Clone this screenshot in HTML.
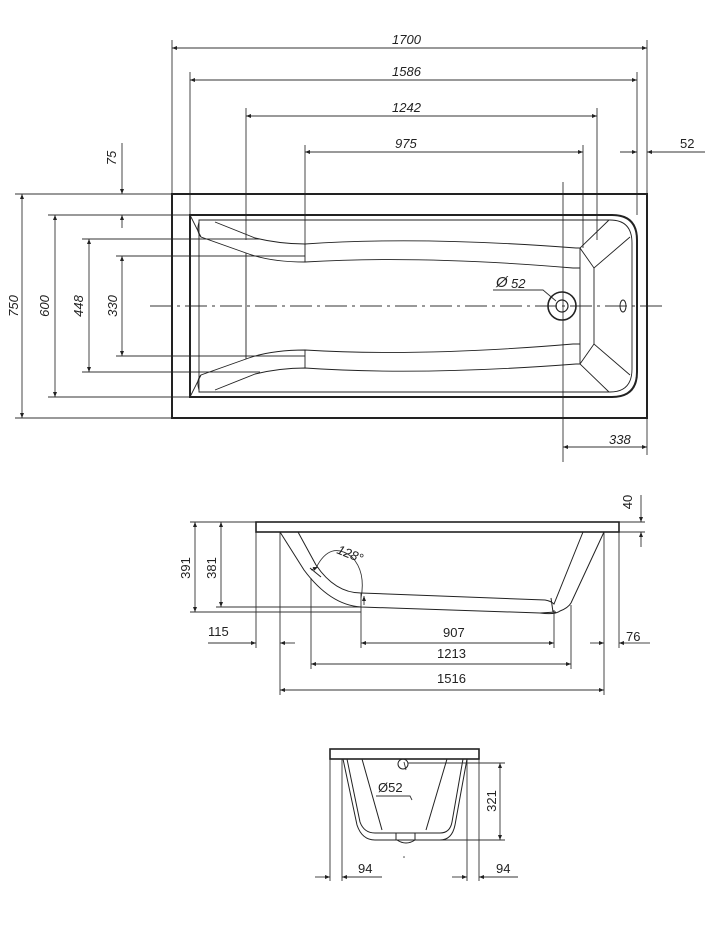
<!DOCTYPE html>
<html><head><meta charset="utf-8"><style>
html,body{margin:0;padding:0;background:#fff}
svg{display:block}
text{font-family:"Liberation Sans",sans-serif;font-size:13px;fill:#222;font-style:italic}
</style></head><body>
<svg width="713" height="950" viewBox="0 0 713 950" xmlns="http://www.w3.org/2000/svg">
<defs>
<marker id="a" viewBox="0 0 10 10" refX="10" refY="5" markerWidth="7" markerHeight="5" orient="auto-start-reverse" markerUnits="userSpaceOnUse"><path d="M0,1 L10,5 L0,9z" fill="#222"/></marker>
</defs>
<g stroke="#333" stroke-width="0.9" fill="none">
<!-- TOP VIEW extension lines -->
<line x1="172" y1="40" x2="172" y2="194"/><line x1="647" y1="40" x2="647" y2="194"/>
<line x1="190" y1="72" x2="190" y2="215"/><line x1="637" y1="72" x2="637" y2="215"/>
<line x1="246" y1="108" x2="246" y2="240"/><line x1="597" y1="108" x2="597" y2="240"/>
<line x1="305" y1="145" x2="305" y2="245"/><line x1="583" y1="145" x2="583" y2="248"/>
<line x1="563" y1="182" x2="563" y2="462"/><line x1="647" y1="418" x2="647" y2="455"/>
<!-- horizontal dims -->
<line x1="172" y1="48" x2="647" y2="48" marker-start="url(#a)" marker-end="url(#a)"/>
<line x1="190" y1="80" x2="637" y2="80" marker-start="url(#a)" marker-end="url(#a)"/>
<line x1="246" y1="116" x2="597" y2="116" marker-start="url(#a)" marker-end="url(#a)"/>
<line x1="305" y1="152" x2="583" y2="152" marker-start="url(#a)" marker-end="url(#a)"/>
<line x1="620" y1="152" x2="637" y2="152" marker-end="url(#a)"/>
<line x1="665" y1="152" x2="647" y2="152" marker-end="url(#a)"/>
<line x1="665" y1="152" x2="705" y2="152"/>
<line x1="563" y1="447" x2="647" y2="447" marker-start="url(#a)" marker-end="url(#a)"/>
<!-- vertical dims left -->
<line x1="15" y1="194" x2="172" y2="194"/><line x1="15" y1="418" x2="172" y2="418"/>
<line x1="48" y1="215" x2="190" y2="215"/><line x1="48" y1="397" x2="190" y2="397"/>
<line x1="82" y1="239" x2="260" y2="239"/><line x1="82" y1="372" x2="260" y2="372"/>
<line x1="116" y1="256" x2="305" y2="256"/><line x1="116" y1="356" x2="305" y2="356"/>
<line x1="22" y1="194" x2="22" y2="418" marker-start="url(#a)" marker-end="url(#a)"/>
<line x1="55" y1="215" x2="55" y2="397" marker-start="url(#a)" marker-end="url(#a)"/>
<line x1="89" y1="239" x2="89" y2="372" marker-start="url(#a)" marker-end="url(#a)"/>
<line x1="122" y1="256" x2="122" y2="356" marker-start="url(#a)" marker-end="url(#a)"/>
<line x1="122" y1="143" x2="122" y2="194" marker-end="url(#a)"/>
<line x1="122" y1="228" x2="122" y2="215" marker-end="url(#a)"/>
<!-- centerline -->
<line x1="150" y1="306" x2="662" y2="306" stroke-dasharray="22,5,3,5"/>
<!-- drain leader -->
<path d="M493,290 L543,290 L556,301"/>
</g>
<!-- TOP VIEW bath -->
<g stroke="#222" fill="none">
<rect x="172" y="194" width="475" height="224" stroke-width="2"/>
<path d="M190,215 L612,215 Q637,215 637,240 L637,372 Q637,397 612,397 L190,397 Z" stroke-width="2"/>
<g stroke-width="0.9">
<path d="M199,220 L610,220 Q632,220 632,243 L632,369 Q632,392 610,392 L199,392 Z"/>
<path d="M190,215 L201,237 L246,253 Q270,262 305,262 Q420,255 573,268 L580,268"/>
<path d="M215,222 L255,238 Q280,244 305,244 Q420,236 576,248 L580,248"/>
<path d="M190,397 L201,375 L246,359 Q270,350 305,350 Q420,357 573,344 L580,344"/>
<path d="M215,390 L255,374 Q280,368 305,368 Q420,376 576,364 L580,364"/>
<path d="M201,237 Q196,232 199,222 M201,375 Q196,380 199,390"/>
<path d="M246,253 L246,359 M305,244 L305,262 M305,350 L305,368"/>
<path d="M580,248 L580,364 M594,268 L594,344"/>
<path d="M609,220 L580,248 L594,268 L630,237 M609,392 L580,364 L594,344 L630,375"/>
</g>
<circle cx="562" cy="306" r="14" stroke-width="1.6"/>
<circle cx="562" cy="306" r="6" stroke-width="1.2"/>
<ellipse cx="623" cy="306" rx="3" ry="6" stroke-width="1"/>
</g>
<text x="392" y="44">1700</text>
<text x="392" y="76">1586</text>
<text x="392" y="112">1242</text>
<text x="395" y="148">975</text>
<text x="680" y="148" style="font-style:normal">52</text>
<text x="609" y="444">338</text>
<text x="496" y="287" style="font-size:15px">Ø</text><text x="511" y="288">52</text>
<text transform="translate(18,306) rotate(-90)" text-anchor="middle">750</text>
<text transform="translate(49,306) rotate(-90)" text-anchor="middle">600</text>
<text transform="translate(83,306) rotate(-90)" text-anchor="middle">448</text>
<text transform="translate(117,306) rotate(-90)" text-anchor="middle">330</text>
<text transform="translate(116,158) rotate(-90)" text-anchor="middle">75</text>

<!-- SIDE VIEW -->
<g stroke="#333" stroke-width="0.9" fill="none">
<line x1="190" y1="522" x2="256" y2="522"/><line x1="190" y1="612" x2="361" y2="612"/><line x1="216" y1="607" x2="361" y2="607"/>
<line x1="195" y1="522" x2="195" y2="612" marker-start="url(#a)" marker-end="url(#a)"/>
<line x1="221" y1="522" x2="221" y2="607" marker-start="url(#a)" marker-end="url(#a)"/>
<line x1="256" y1="532" x2="256" y2="648"/><line x1="280" y1="532" x2="280" y2="695"/>
<line x1="311" y1="578" x2="311" y2="669"/><line x1="361" y1="593" x2="361" y2="648"/>
<line x1="554" y1="610" x2="554" y2="648"/><line x1="571" y1="605" x2="571" y2="669"/>
<line x1="604" y1="532" x2="604" y2="695"/><line x1="619" y1="532" x2="619" y2="648"/>
<line x1="619" y1="522" x2="645" y2="522"/><line x1="619" y1="532" x2="645" y2="532"/>
<line x1="641" y1="495" x2="641" y2="522" marker-end="url(#a)"/>
<line x1="641" y1="547" x2="641" y2="532" marker-end="url(#a)"/>
<line x1="208" y1="643" x2="256" y2="643" marker-end="url(#a)"/>
<line x1="295" y1="643" x2="280" y2="643" marker-end="url(#a)"/>
<line x1="361" y1="643" x2="554" y2="643" marker-start="url(#a)" marker-end="url(#a)"/>
<line x1="590" y1="643" x2="604" y2="643" marker-end="url(#a)"/>
<line x1="634" y1="643" x2="619" y2="643" marker-end="url(#a)"/>
<line x1="634" y1="643" x2="650" y2="643"/>
<line x1="311" y1="664" x2="571" y2="664" marker-start="url(#a)" marker-end="url(#a)"/>
<line x1="280" y1="690" x2="604" y2="690" marker-start="url(#a)" marker-end="url(#a)"/>
<path d="M316,568 Q330,540 352,557 Q366,572 361,598"/>
<line x1="311" y1="570" x2="318" y2="567" marker-end="url(#a)"/>
<line x1="364" y1="605" x2="364" y2="596" marker-end="url(#a)"/>
</g>
<g stroke="#222" fill="none">
<rect x="256" y="522" width="363" height="10" stroke-width="1.6"/>
<g stroke-width="1">
<path d="M280,532 L304,570 Q330,605 361,607 L540,613 Q555,615 560,611 Q568,608 571,603 L604,532"/>
<path d="M298,532 L316,565 Q335,593 361,593 L545,600 Q551,601 554,604 L583,532"/>
<path d="M310,568 L321,577 M551,598 L553,612 M540,613 L556,612"/>
</g>
</g>
<text x="208" y="636" style="font-style:normal">115</text>
<text x="443" y="637" style="font-style:normal">907</text>
<text x="437" y="658" style="font-style:normal">1213</text>
<text x="437" y="683" style="font-style:normal">1516</text>
<text x="626" y="641" style="font-style:normal">76</text>
<text transform="translate(336,553) rotate(22)">128°</text>
<text transform="translate(190,568) rotate(-90)" text-anchor="middle" style="font-style:normal">391</text>
<text transform="translate(216,568) rotate(-90)" text-anchor="middle" style="font-style:normal">381</text>
<text transform="translate(632,502) rotate(-90)" text-anchor="middle" style="font-style:normal">40</text>

<!-- FRONT VIEW -->
<g stroke="#333" stroke-width="0.9" fill="none">
<line x1="330" y1="759" x2="330" y2="881"/><line x1="342" y1="759" x2="342" y2="881"/>
<line x1="467" y1="759" x2="467" y2="881"/><line x1="479" y1="759" x2="479" y2="881"/>
<line x1="408" y1="763" x2="505" y2="763"/><line x1="420" y1="840" x2="505" y2="840"/>
<line x1="500" y1="763" x2="500" y2="840" marker-start="url(#a)" marker-end="url(#a)"/>
<line x1="315" y1="877" x2="330" y2="877" marker-end="url(#a)"/>
<line x1="382" y1="877" x2="342" y2="877" marker-end="url(#a)"/>
<line x1="452" y1="877" x2="467" y2="877" marker-end="url(#a)"/>
<line x1="518" y1="877" x2="479" y2="877" marker-end="url(#a)"/>
<path d="M376,796 L410,796 L412,800 M406,770 L404,762"/>
</g>
<g stroke="#222" fill="none">
<rect x="330" y="749" width="149" height="10" stroke-width="1.6"/>
<g stroke-width="1">
<path d="M343,759 L357,825 Q362,840 375,840 L440,840 Q452,840 455,825 L467,759"/>
<path d="M347,759 L360,822 Q364,833 375,833 L440,833 Q450,833 452,822 L463,759"/>
<path d="M362,759 L382,830 M447,759 L426,830 M396,833 L396,840 M415,833 L415,840 M397,840 Q406,846 415,840"/>
<circle cx="403" cy="764" r="5"/>
</g>
</g>
<circle cx="404" cy="857" r="0.8" fill="#444"/>
<text x="378" y="792" style="font-style:normal">Ø52</text>
<text x="358" y="873" style="font-style:normal">94</text>
<text x="496" y="873" style="font-style:normal">94</text>
<text transform="translate(496,801) rotate(-90)" text-anchor="middle" style="font-style:normal">321</text>
</svg>
</body></html>
